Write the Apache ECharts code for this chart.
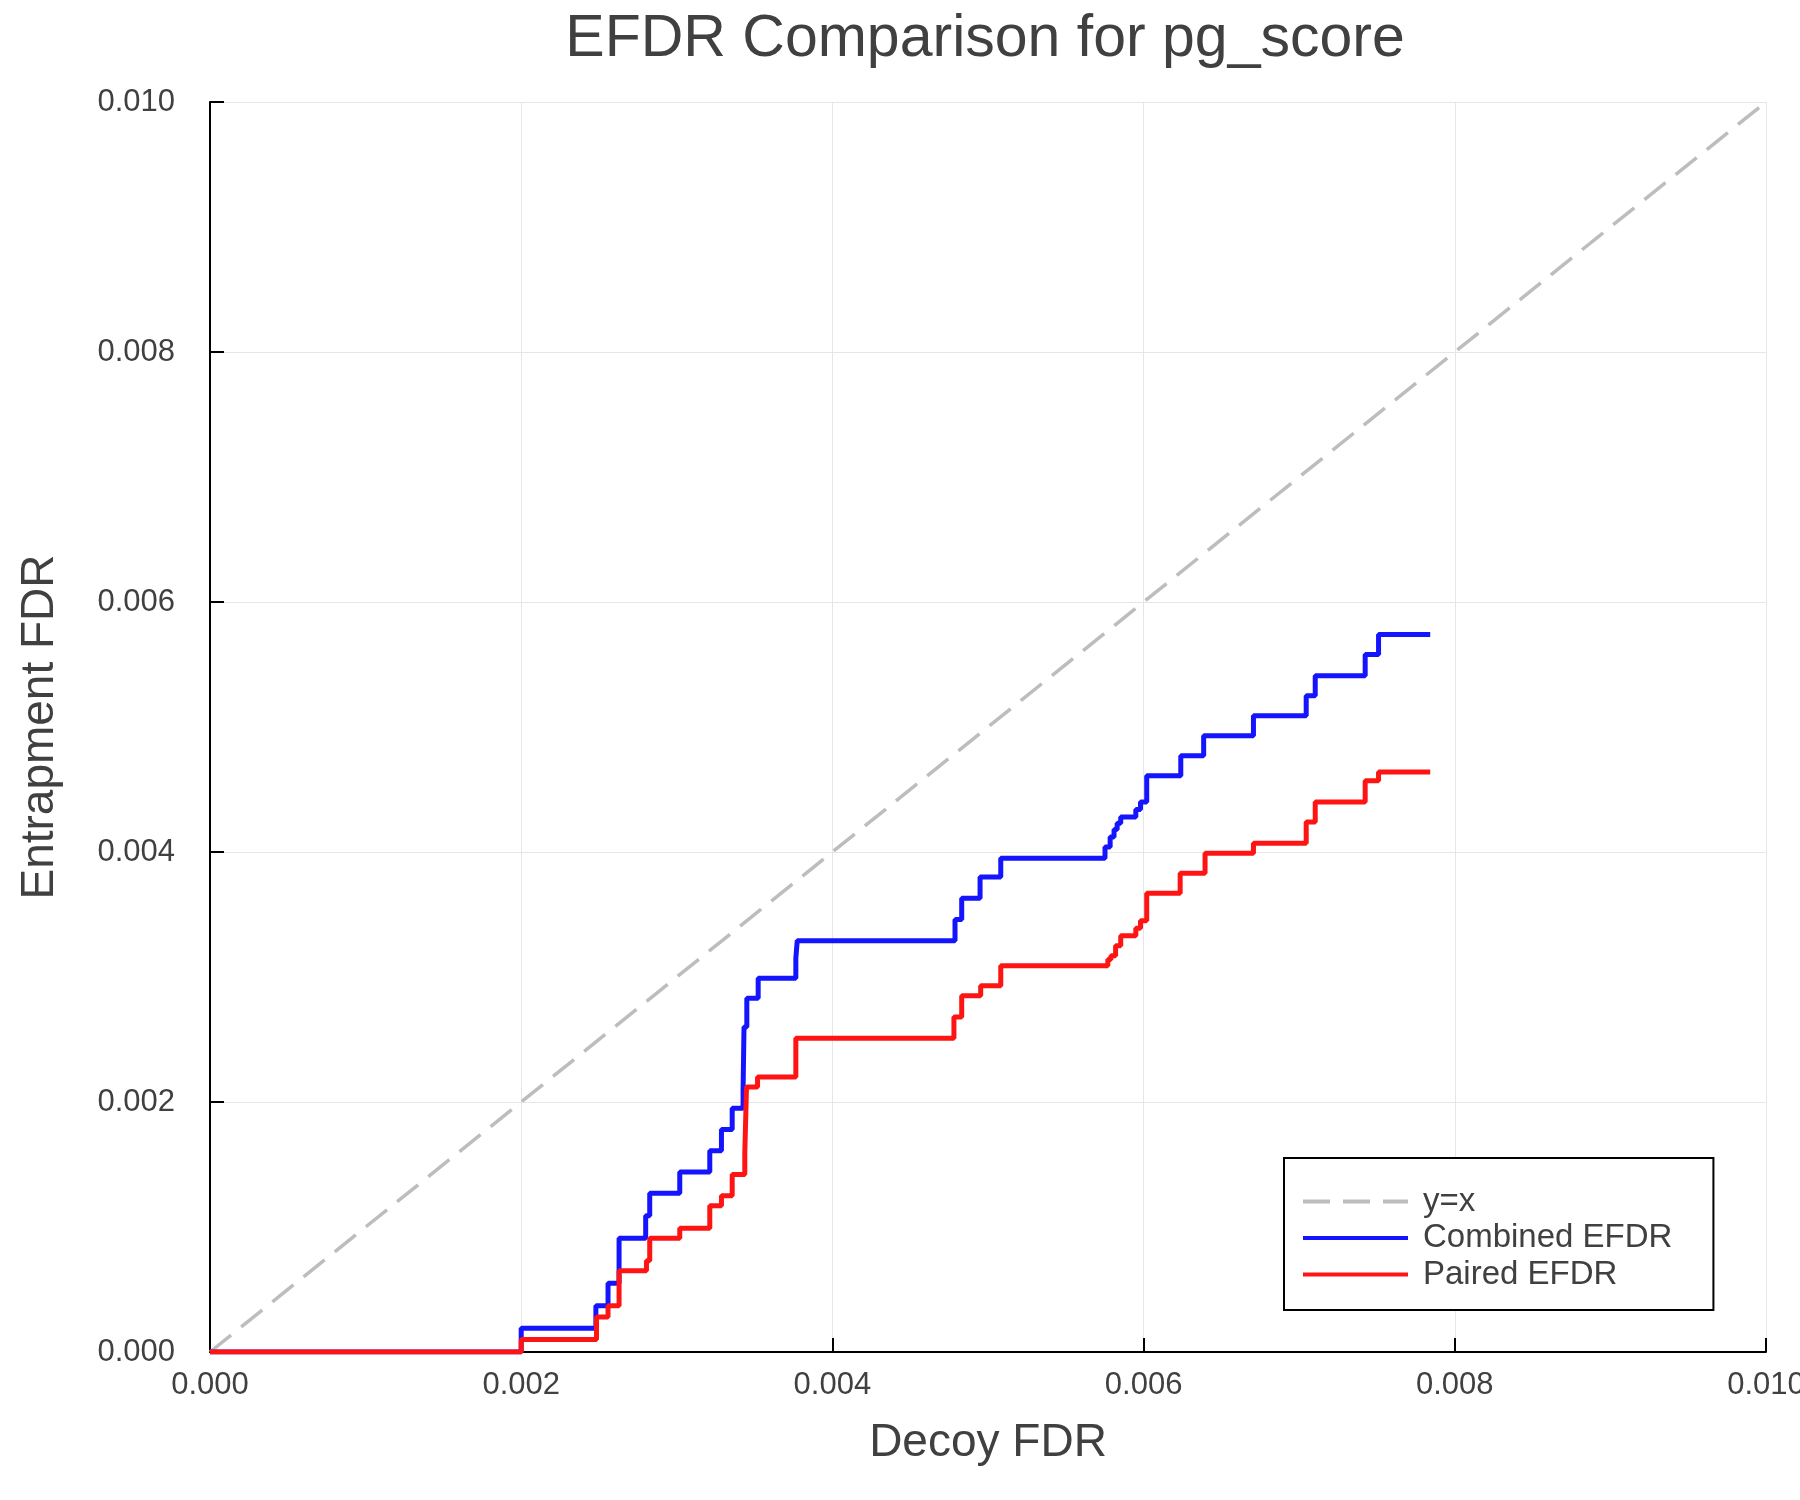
<!DOCTYPE html>
<html>
<head>
<meta charset="utf-8">
<script src="https://cdn.jsdelivr.net/npm/echarts@6/dist/echarts.min.js"></script>
<style>
    html, body { margin: 0; padding: 0; background: #fff; }
    #efdr { width: 1800px; height: 1500px; }
</style>
</head>
<body>
<div id="efdr"></div>

<script>
    // decoy FDR where each step happens, and entrapment FDR after it
    var combinedX = [0, 0.002, 0.00248, 0.002558, 0.002629, 0.0028, 0.002826, 0.003019, 0.003212, 0.003287,
        0.003356, 0.003426, 0.003432, 0.00345, 0.003523, 0.003765, 0.003774, 0.004788, 0.004831, 0.004949,
        0.005082, 0.005752, 0.005785, 0.00581, 0.00583, 0.005853, 0.00595, 0.00598, 0.00602, 0.00602,
        0.006239, 0.006386, 0.006706, 0.007045, 0.007103, 0.007424, 0.00751, 0.007842];
    var combinedY = [0, 0.00019, 0.00037, 0.00055, 0.00091, 0.00109, 0.00127, 0.00144, 0.00161, 0.00178,
        0.00195, 0.0021, 0.0026, 0.00283, 0.00299, 0.00315, 0.00329, 0.00346, 0.00363, 0.0038,
        0.00395, 0.00404, 0.00412, 0.00418, 0.00423, 0.00428, 0.00434, 0.0044, 0.00446, 0.00461,
        0.00477, 0.00493, 0.00509, 0.00525, 0.00541, 0.00558, 0.00574, 0.00574];

    var pairedX = [0, 0.002, 0.002484, 0.002558, 0.002629, 0.002805, 0.002826, 0.003019, 0.003212, 0.003287,
        0.003356, 0.003437, 0.003448, 0.003519, 0.003765, 0.004781, 0.004831, 0.004953, 0.005082, 0.00577,
        0.00579, 0.00582, 0.005853, 0.00595, 0.00598, 0.00602, 0.00602, 0.006235, 0.006395, 0.006706,
        0.007045, 0.007103, 0.007424, 0.00751, 0.007842];
    var pairedY = [0, 0.0001, 0.00028, 0.00037, 0.00065, 0.00073, 0.00091, 0.00099, 0.00117, 0.00125,
        0.00142, 0.00159, 0.00212, 0.0022, 0.00251, 0.00268, 0.00285, 0.00293, 0.00309, 0.00314,
        0.00317, 0.00325, 0.00333, 0.00339, 0.00345, 0.00351, 0.00367, 0.00383, 0.00399, 0.00407,
        0.00424, 0.0044, 0.00457, 0.00464, 0.00464];

    var diagX = [0, 0.01];
    var diagY = [0, 0.01];

    var axisTicks = ['0.000', '0.002', '0.004', '0.006', '0.008', '0.010'];

    function pairs(xs, ys) {
        var out = [];
        for (var i = 0; i < xs.length; i++) {
            out.push([xs[i], ys[i]]);
        }
        return out;
    }

    function tickLabel(v) {
        return axisTicks[Math.round(v / 0.002)] || v.toFixed(3);
    }

    var font = 'Liberation Sans';
    var ink = '#404040';

    var myChart = echarts.init(document.getElementById('efdr'));

    var option = {
        animation: false,
        backgroundColor: '#fff',
        title: {
            text: 'EFDR Comparison for pg_score',
            left: 980,
            textAlign: 'center',
            top: 5,
            textStyle: {fontFamily: font, fontSize: 59, fontWeight: 'normal', color: ink}
        },
        grid: {
            left: 210,
            right: 34,
            top: 102,
            bottom: 148,
            containLabel: false,
            outerBoundsMode: 'none'
        },
        legend: {
            orient: 'vertical',
            left: 1284,
            top: 1158,
            data: ['y=x', 'Combined EFDR', 'Paired EFDR'],
            itemWidth: 105,
            itemHeight: 14,
            itemGap: 3.5,
            padding: [27, 41, 19, 17],
            borderColor: '#000',
            borderWidth: 2,
            backgroundColor: '#fff',
            itemStyle: {opacity: 0},
            lineStyle: {width: 4},
            textStyle: {fontFamily: font, fontSize: 33, lineHeight: 30, color: ink, padding: [0, 0, 0, 10]}
        },
        xAxis: {
            type: 'value',
            min: 0,
            max: 0.01,
            interval: 0.002,
            name: 'Decoy FDR',
            nameLocation: 'middle',
            nameGap: 68,
            nameTextStyle: {fontFamily: font, fontSize: 46, color: ink},
            axisLine: {lineStyle: {color: '#000', width: 2}},
            axisTick: {show: true, inside: true, length: 14, lineStyle: {color: '#000', width: 2}},
            axisLabel: {fontFamily: font, fontSize: 31, color: ink, margin: 18, formatter: tickLabel},
            splitLine: {show: true, lineStyle: {color: '#e6e6e6', width: 1}}
        },
        yAxis: {
            type: 'value',
            min: 0,
            max: 0.01,
            interval: 0.002,
            name: 'Entrapment FDR',
            nameLocation: 'middle',
            nameGap: 147,
            nameTextStyle: {fontFamily: font, fontSize: 46, color: ink},
            axisLine: {show: true, lineStyle: {color: '#000', width: 2}},
            axisTick: {show: true, inside: true, length: 14, lineStyle: {color: '#000', width: 2}},
            axisLabel: {fontFamily: font, fontSize: 31, color: ink, margin: 35, formatter: tickLabel},
            splitLine: {show: true, lineStyle: {color: '#e6e6e6', width: 1}}
        },
        series: [
            {
                name: 'y=x',
                type: 'line',
                data: pairs(diagX, diagY),
                showSymbol: false,
                symbol: 'none',
                color: '#bdbdbd',
                lineStyle: {color: '#bdbdbd', width: 3.5, type: [27, 13]}
            },
            {
                name: 'Combined EFDR',
                type: 'line',
                step: 'end',
                data: pairs(combinedX, combinedY),
                showSymbol: false,
                symbol: 'none',
                color: '#1414ff',
                lineStyle: {color: '#1414ff', width: 5}
            },
            {
                name: 'Paired EFDR',
                type: 'line',
                step: 'end',
                data: pairs(pairedX, pairedY),
                showSymbol: false,
                symbol: 'none',
                color: '#ff1414',
                lineStyle: {color: '#ff1414', width: 5}
            }
        ]
    };

    myChart.setOption(option);
    window.onresize = myChart.resize;
</script>
</body>
</html>
